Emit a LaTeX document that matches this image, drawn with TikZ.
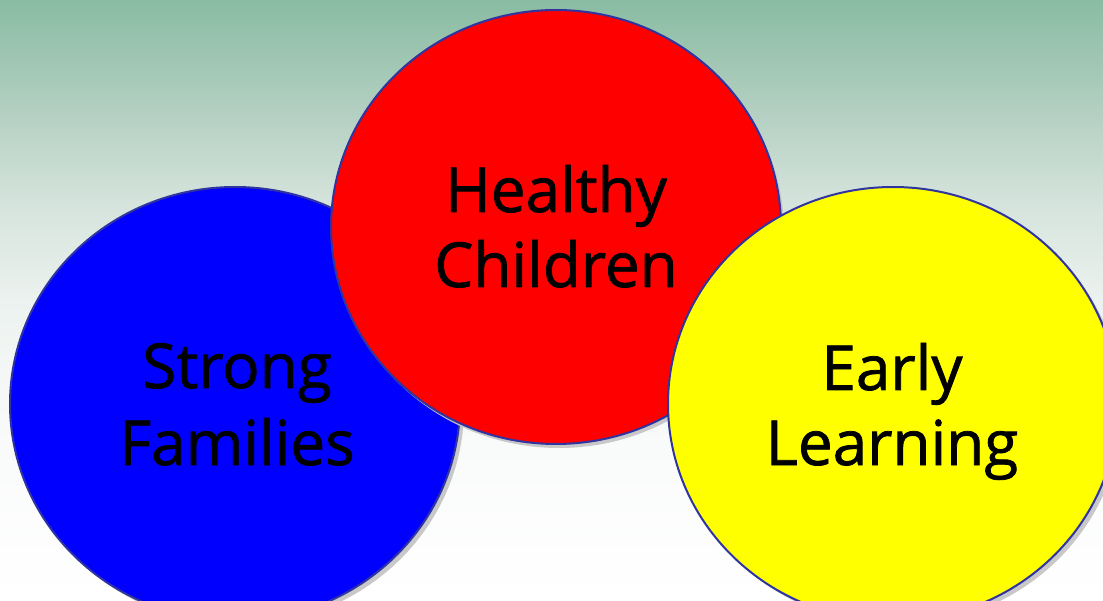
\documentclass[tikz,border=0pt]{standalone}
\usepackage{fontspec}
\setmainfont{Open Sans}[FakeBold=1.2]
\usetikzlibrary{shapes.geometric}
\definecolor{bgtop}{RGB}{137,188,162}
\definecolor{bgA}{RGB}{175,205,190}
\definecolor{bgB}{RGB}{212,227,219}
\definecolor{bgC}{RGB}{236,242,239}
\definecolor{bgD}{RGB}{248,250,249}
\definecolor{rimblue}{RGB}{48,52,160}
\definecolor{shadowgray}{RGB}{200,200,200}
\definecolor{discblue}{RGB}{0,0,255}
\definecolor{discred}{RGB}{255,0,0}
\definecolor{discyellow}{RGB}{255,255,0}
\pgfdeclareverticalshading{bgshade}{100bp}{color(0bp)=(white); color(25bp)=(white); color(40bp)=(bgD); color(50bp)=(bgC); color(58.35bp)=(bgB); color(66.7bp)=(bgA); color(75bp)=(bgtop); color(100bp)=(bgtop)}
\tikzset{
  disc/.style={ellipse, draw=rimblue, line width=2pt, inner sep=0pt, minimum width=450pt, minimum height=434pt},
  discshadow/.style={ellipse, fill=shadowgray, inner sep=0pt, minimum width=450pt, minimum height=434pt},
  label/.style={font=\fontsize{62}{66}\selectfont, anchor=base, inner sep=0pt}
}
\begin{document}
\begin{tikzpicture}[x=1pt,y=-1pt]
\useasboundingbox (0,0) rectangle (1103,601);
\shade[shading=bgshade] (0,0) rectangle (1103,601);
% blue
\node[discshadow] (bshadow) at (239,408) {};
\node[disc, fill=discblue] (bdisc) at (235,404) {};
% red
\node[discshadow] (rshadow) at (559,231) {};
\node[disc, fill=discred] (rdisc) at (556,227) {};
% yellow
\node[discshadow] (yshadow) at (897,408) {};
\node[disc, fill=discyellow] (ydisc) at (893,404) {};
% texts
\node[label] (t1) at (556,212) {Healthy};
\node[label] (t2) at (556,287) {Children};
\node[label] (t3) at (237,388) {Strong};
\node[label] (t4) at (237,465) {Families};
\node[label] (t5) at (892,390) {Early};
\node[label] (t6) at (892,465) {Learning};
\end{tikzpicture}
\end{document}
